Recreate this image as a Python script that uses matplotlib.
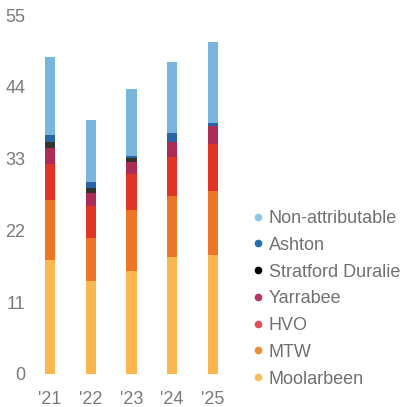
import matplotlib
matplotlib.use('Agg')
import matplotlib.pyplot as plt
from matplotlib.lines import Line2D
import numpy as np

plt.rcParams['font.family'] = ['Liberation Sans', 'DejaVu Sans']

years = ["'21", "'22", "'23", "'24", "'25"]
series = ['Moolarbeen', 'MTW', 'HVO', 'Yarrabee', 'Stratford Duralie', 'Ashton', 'Non-attributable']

moolarbeen = [17.4, 14.2, 15.8, 18.0, 18.3]
mtw = [9.2, 6.6, 9.3, 9.2, 9.7]
hvo = [5.6, 4.9, 5.5, 6.0, 7.2]
yarrabee = [2.4, 2.0, 1.9, 2.3, 2.8]
stratford = [0.9, 0.8, 0.6, 0.0, 0.0]
ashton = [1.1, 0.9, 0.3, 1.4, 0.5]
non_attr = [11.9, 9.5, 10.3, 10.9, 12.3]

bar_colors = ['#fab74f', '#ec7628', '#e03426', '#ab2d55', '#36322c', '#2866a8', '#7ab6dc']
dot_colors = ['#fbbf5a', '#ef8c30', '#e4505a', '#b8335e', '#000000', '#1f6fb5', '#8cc3e6']
values = [moolarbeen, mtw, hvo, yarrabee, stratford, ashton, non_attr]

fig = plt.figure(figsize=(4.06, 4.07), dpi=100)
ax = fig.add_axes([0.0727, 0.0811, 0.502, 0.882])

x = np.arange(len(years))
bottom = np.zeros(len(years))
for vals, c in zip(values, bar_colors):
    ax.bar(x, vals, width=0.25, bottom=bottom, color=c, linewidth=0)
    bottom += np.array(vals)

ax.set_xlim(-0.5, 4.5)
ax.set_ylim(0, 55)
ax.set_yticks([0, 11, 22, 33, 44, 55])
ax.set_xticks(x)
ax.set_xticklabels(years)
for s in ax.spines.values():
    s.set_visible(False)
ax.tick_params(axis='both', length=0, labelsize=13, colors='#7a7a7a')
ax.tick_params(axis='y', pad=3)
ax.tick_params(axis='x', pad=12)

handles = [Line2D([], [], marker='o', linestyle='none', markersize=5.5,
                  markerfacecolor=c, markeredgewidth=0) for c in dot_colors[::-1]]
fig.legend(handles, series[::-1], loc='upper left', bbox_to_anchor=(0.622, 0.484),
           frameon=False, fontsize=13, labelcolor='#707070', handlelength=0.6,
           handletextpad=0.3, labelspacing=0.54, borderpad=0, borderaxespad=0)

fig.savefig('out.png', dpi=100)
